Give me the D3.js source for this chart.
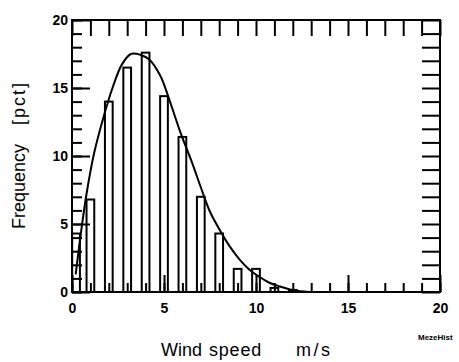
<!DOCTYPE html>
<html>
<head>
<meta charset="utf-8">
<script src="https://cdn.jsdelivr.net/npm/d3@7"></script>
<style>
  body { margin: 0; background: white; }
  text { font-family: "Liberation Sans", Arial, sans-serif; fill: black; }
</style>
</head>
<body>
<div id="chart"></div>
<script>
// histogram bins (wind speed, m/s) and frequencies (pct)
const binCenters = [0.22, 1, 2, 3, 4, 5, 6, 7, 8, 9, 10, 11, 12];
const binFreq = [4.3, 6.8, 14.0, 16.5, 17.6, 14.4, 11.4, 7.0, 4.3, 1.7, 1.7, 0.3, 0.15];

// fitted curve
const curveX = [0.2, 0.5, 0.8, 1.2, 1.7, 2.2, 2.7, 3.2, 3.7, 4.2, 4.8, 5.2, 5.9, 6.5, 7.0, 7.5, 8.1, 8.6, 9.1, 9.6, 10.2, 10.7, 11.3, 11.8, 12.4, 12.9];
const curveY = [1.3, 4.5, 7.3, 10.2, 12.8, 15.0, 16.7, 17.5, 17.45, 17.1, 15.9, 14.5, 11.7, 9.6, 7.7, 5.9, 4.4, 3.3, 2.4, 1.7, 1.1, 0.7, 0.4, 0.2, 0.05, 0.0];

const xMajor = [0, 5, 10, 15, 20];
const yMajor = [0, 5, 10, 15, 20];
const unitTicks = d3.range(0, 21);

let width = 459,
    height = 362,
    margin = { top: 20, right: 19, bottom: 70, left: 72 };

let x = d3.scaleLinear().domain([0, 20]).range([margin.left, width - margin.right]);
let y = d3.scaleLinear().domain([0, 20]).range([height - margin.bottom, margin.top]);

let svg = d3.select('#chart')
  .append('svg')
    .attr('width', width)
    .attr('height', height)
    .style('background', 'white');

function styleAxis(g) {
  g.select('.domain').remove();
  g.selectAll('line').attr('stroke', 'black').attr('stroke-width', 2);
  g.selectAll('text')
    .style('font-family', '"Liberation Sans", Arial, sans-serif')
    .style('font-size', '14px')
    .style('font-weight', 'bold')
    .attr('fill', 'black');
}

// bars
let barW = 0.42;
svg.append('g')
  .selectAll('rect')
  .data(binCenters)
  .enter()
  .append('rect')
    .attr('x', d => x(d - barW / 2))
    .attr('width', d => x(barW) - x(0))
    .attr('y', (d, i) => y(binFreq[i]))
    .attr('height', (d, i) => y(0) - y(binFreq[i]))
    .attr('fill', 'white')
    .attr('stroke', 'black')
    .attr('stroke-width', 2);

// bottom: minor ticks then major ticks with labels
svg.append('g')
  .attr('transform', 'translate(0,' + y(0) + ')')
  .call(d3.axisBottom(x).tickValues(unitTicks).tickSize(-9).tickFormat(''))
  .call(styleAxis);
svg.append('g')
  .attr('transform', 'translate(0,' + y(0) + ')')
  .call(d3.axisBottom(x).tickValues(xMajor).tickSize(-17).tickPadding(11).tickFormat(d3.format('d')))
  .call(styleAxis);

// top
svg.append('g')
  .attr('transform', 'translate(0,' + y(20) + ')')
  .call(d3.axisTop(x).tickValues(unitTicks).tickSize(-16).tickFormat(''))
  .call(styleAxis);

// left
svg.append('g')
  .attr('transform', 'translate(' + x(0) + ',0)')
  .call(d3.axisLeft(y).tickValues(unitTicks).tickSize(-10).tickFormat(''))
  .call(styleAxis);
svg.append('g')
  .attr('transform', 'translate(' + x(0) + ',0)')
  .call(d3.axisLeft(y).tickValues(yMajor).tickSize(-18).tickPadding(4).tickFormat(d3.format('d')))
  .call(styleAxis);

// right
svg.append('g')
  .attr('transform', 'translate(' + x(20) + ',0)')
  .call(d3.axisRight(y).tickValues(unitTicks).tickSize(-18).tickFormat(''))
  .call(styleAxis);

// frame
svg.append('rect')
  .attr('x', x(0))
  .attr('y', y(20))
  .attr('width', x(20) - x(0))
  .attr('height', y(0) - y(20))
  .attr('fill', 'none')
  .attr('stroke', 'black')
  .attr('stroke-width', 2);

// fitted curve
let line = d3.line()
  .x(d => x(d[0]))
  .y(d => y(d[1]))
  .curve(d3.curveCatmullRom);

svg.append('path')
  .datum(curveX.map((v, i) => [v, curveY[i]]))
  .attr('d', line)
  .attr('fill', 'none')
  .attr('stroke', 'black')
  .attr('stroke-width', 2);

// axis titles
let xTitle = [['Wind', 161, 0], ['speed', 209, 0.8], ['m/s', 296, 2.5]];
svg.selectAll('.xtitle')
  .data(xTitle)
  .enter()
  .append('text')
    .attr('x', d => d[1])
    .attr('y', 356)
    .style('letter-spacing', d => d[2] + 'px')
    .style('font-size', '18px')
    .text(d => d[0]);

let yTitle = [['Frequency', 229, 0], ['[pct]', 125, 2]];
svg.selectAll('.ytitle')
  .data(yTitle)
  .enter()
  .append('text')
    .attr('transform', d => 'translate(25,' + d[1] + ') rotate(-90)')
    .style('letter-spacing', d => d[2] + 'px')
    .style('font-size', '18px')
    .text(d => d[0]);

svg.append('text')
  .attr('x', 418)
  .attr('y', 340)
  .style('font-size', '8px')
  .style('font-weight', 'bold')
  .text('MezeHist');
</script>
</body>
</html>
